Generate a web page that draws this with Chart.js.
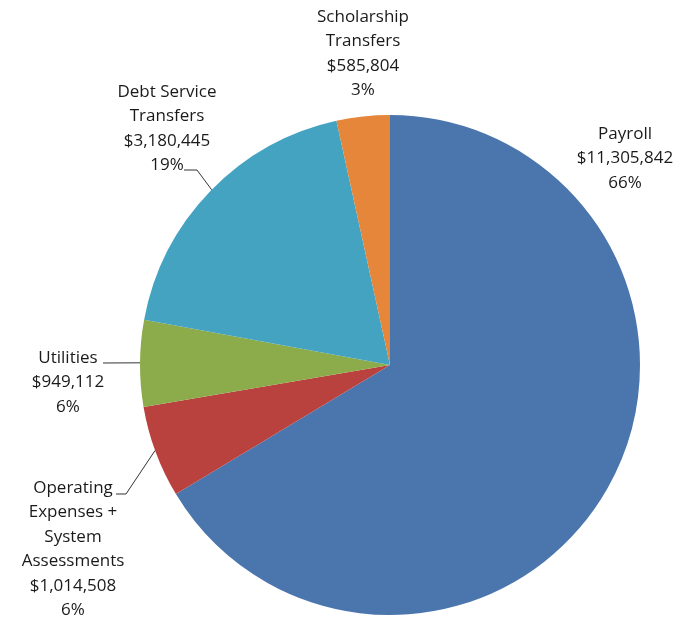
<!DOCTYPE html>
<html>
<head>
<meta charset="utf-8">
<script src="https://cdn.jsdelivr.net/npm/chart.js@4"></script>
<style>
  html, body { margin: 0; padding: 0; background: #fff; }
  #wrap { width: 687px; height: 619px; position: relative; }
</style>
</head>
<body>
<div id="wrap"><canvas id="myChart"></canvas></div>
<script>
'use strict';
// data, clockwise from 12 o'clock
const categories = ['Payroll', 'Operating Expenses + System Assessments', 'Utilities', 'Debt Service Transfers', 'Scholarship Transfers'];
const amounts = [11305842, 1014508, 949112, 3180445, 585804];
const percentLabels = ['66%', '6%', '6%', '19%', '3%'];
const labelLines = [
  ['Payroll'],
  ['Operating', 'Expenses +', 'System', 'Assessments'],
  ['Utilities'],
  ['Debt Service', 'Transfers'],
  ['Scholarship', 'Transfers']
];
const sliceColors = ['#4a76ad', '#b9423f', '#8cab4a', '#43a3c1', '#e5863a'];

// label layout: text centre x, first line y, leader (rim angle in deg from 12 o'clock, elbow points)
const labelLayout = [
  { x: 625, y: 134 },
  { x: 73, y: 488, leader: { rimDeg: 250, pts: [[116, 494], [126, 494]] } },
  { x: 68, y: 358, leader: { rimDeg: 270.5, pts: [[103, 363]] } },
  { x: 167, y: 92, leader: { rimDeg: 314.5, pts: [[184, 170], [197, 170]] } },
  { x: 363, y: 17 }
];

function fmtMoney(v) {
  return '$' + v.toLocaleString('en-US');
}

const labelPlugin = {
  id: 'sliceLabels',
  afterDatasetsDraw(chart) {
    const ctx = chart.ctx;
    const arcs = chart.getDatasetMeta(0).data;
    ctx.save();
    ctx.font = '17px "Open Sans", sans-serif';
    ctx.fillStyle = '#1a1a1a';
    ctx.textAlign = 'center';
    ctx.textBaseline = 'middle';
    amounts.forEach((v, i) => {
      const lay = labelLayout[i];
      const lines = labelLines[i].concat([fmtMoney(v), percentLabels[i]]);
      lines.forEach((t, k) => ctx.fillText(t, lay.x, lay.y + k * 24.5));
      if (lay.leader) {
        const arc = arcs[i];
        const a = (lay.leader.rimDeg - 90) * Math.PI / 180;
        const ex = arc.x + Math.cos(a) * arc.outerRadius;
        const ey = arc.y + Math.sin(a) * arc.outerRadius;
        ctx.beginPath();
        ctx.strokeStyle = '#333';
        ctx.lineWidth = 1;
        lay.leader.pts.forEach((p, k) => k === 0 ? ctx.moveTo(p[0], p[1]) : ctx.lineTo(p[0], p[1]));
        ctx.lineTo(ex, ey);
        ctx.stroke();
      }
    });
    ctx.restore();
  }
};

const ctx = document.getElementById('myChart');
new Chart(ctx, {
  type: 'pie',
  data: {
    labels: categories,
    datasets: [{
      data: amounts,
      backgroundColor: sliceColors,
      borderWidth: 0
    }]
  },
  options: {
    responsive: true,
    maintainAspectRatio: false,
    animation: false,
    layout: { padding: { top: 115, bottom: 4, left: 140, right: 47 } },
    plugins: {
      legend: { display: false },
      tooltip: { enabled: false }
    }
  },
  plugins: [labelPlugin]
});
</script>
</body>
</html>
